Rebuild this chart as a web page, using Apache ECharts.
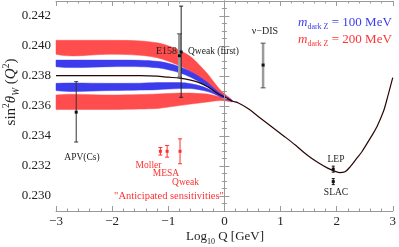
<!DOCTYPE html>
<html><head><meta charset="utf-8">
<script src="https://cdn.jsdelivr.net/npm/echarts@6/dist/echarts.min.js"></script>
<style>html,body{margin:0;padding:0;background:#fff}#c{width:399px;height:247px}</style>
</head><body><div id="c"></div>
<script>
// ---- data ----
const bandX      = [-3, -2, -1.5, -1.2, -1.0, -0.8, -0.6, -0.45, -0.3, -0.18, -0.07, 0.04, 0.14];
const redUpTop   = [0.24038,0.24038,0.24034,0.24021,0.24001,0.23971,0.23928,0.23875,0.23815,0.23756,0.23706,0.23670,0.23640];
const redUpBot   = [0.23945,0.23945,0.23938,0.23922,0.23899,0.23868,0.23829,0.23782,0.23736,0.23696,0.23666,0.23653,0.23633];
const blueUpTop  = [0.23906,0.23906,0.23905,0.23898,0.23885,0.23862,0.23829,0.23796,0.23756,0.23716,0.23683,0.23660,0.23636];
const blueUpBot  = [0.23862,0.23862,0.23862,0.23855,0.23842,0.23822,0.23792,0.23762,0.23729,0.23696,0.23670,0.23653,0.23633];
const blueLowTop = [0.23751,0.23751,0.23752,0.23756,0.23756,0.23756,0.23749,0.23736,0.23716,0.23693,0.23670,0.23650,0.23633];
const blueLowBot = [0.23703,0.23703,0.23706,0.23709,0.23713,0.23716,0.23716,0.23709,0.23696,0.23680,0.23660,0.23643,0.23630];
const redLowTop  = [0.23673,0.23673,0.23676,0.23680,0.23683,0.23686,0.23686,0.23683,0.23680,0.23670,0.23660,0.23646,0.23633];
const redLowBot  = [0.23577,0.23577,0.23580,0.23583,0.23593,0.23603,0.23613,0.23620,0.23627,0.23633,0.23636,0.23633,0.23627];

const smX = [-3, -2, -1.5, -1.2, -1.0, -0.8, -0.6, -0.45, -0.3, -0.18, -0.07, 0.04, 0.14, 0.25, 0.42, 0.65, 0.86, 1.08, 1.27, 1.48, 1.66, 1.84, 1.94, 2.05, 2.15, 2.24, 2.36, 2.45, 2.54, 2.63, 2.72, 2.84, 2.91, 3.0];
const smY = [0.23802,0.23802,0.23802,0.23799,0.23792,0.23786,0.23772,0.23756,0.23729,0.23699,0.23673,0.23653,0.23633,0.23620,0.23583,0.23517,0.23457,0.23394,0.23338,0.23272,0.23225,0.23186,0.23169,0.23156,0.23162,0.23194,0.23252,0.23295,0.23349,0.23404,0.23464,0.23570,0.23663,0.23789];

// measurements: [log10 Q, value, lower, upper]
const apv      = [[-2.64, 0.23559, 0.23360, 0.23762]];
const e158     = [[-0.80, 0.23935, 0.23792, 0.24081]];
const qweak1   = [[-0.77, 0.23960, 0.23658, 0.24266]];
const nuDIS    = [[0.69, 0.23873, 0.23721, 0.24019]];
const lep      = [[1.94, 0.23179, 0.23159, 0.23199]];
const slac     = [[1.94, 0.23096, 0.23076, 0.23116]];
const future   = [[-1.14, 0.23298, 0.23273, 0.23323], [-1.02, 0.23298, 0.23259, 0.23337], [-0.79, 0.23298, 0.23215, 0.23381]];

// ---- chart ----
const SERIF = "'Liberation Serif','DejaVu Serif',serif";
const RED = '#ff4d4d', BLUE = '#3c3cec';
const FRAME = '#9a9a9a';

function pairs(xs, ys) { return xs.map((x, i) => [x, ys[i]]); }

// a band: one polygon through the upper edge and back along the lower edge, via the axes' scales
function band(top, bot, color) {
  return {
    type: 'custom', silent: true, z: 2,
    data: bandX.map((x, i) => [x, top[i], bot[i]]),
    dimensions: ['x', 'top', 'bot'], encode: { x: 0, y: 1 },
    renderItem: function (params, api) {
      if (params.dataIndex !== 0) return { type: 'group', children: [] };
      const pts = [];
      for (let i = 0; i < bandX.length; i++) pts.push(api.coord([bandX[i], top[i]]));
      for (let i = bandX.length - 1; i >= 0; i--) pts.push(api.coord([bandX[i], bot[i]]));
      let x0 = Infinity, y0 = Infinity, x1 = -Infinity, y1 = -Infinity;
      pts.forEach(p => { x0 = Math.min(x0, p[0]); y0 = Math.min(y0, p[1]); x1 = Math.max(x1, p[0]); y1 = Math.max(y1, p[1]); });
      return { type: 'polygon', shape: { points: pts, smooth: 0.35, smoothConstraint: [[x0, y0], [x1, y1]] },
        style: { fill: color, stroke: color, lineWidth: 0.5 } };
    }
  };
}

function errSeries(data, color, width, cap, mcolor, capColor) {
  return {
    type: 'custom', data: data, dimensions: ['x', 'v', 'lo', 'hi'], encode: { x: 0, y: 1 },
    z: 10,
    renderItem: function (params, api) {
      const x = api.value(0);
      const p = api.coord([x, api.value(1)]);
      const a = api.coord([x, api.value(2)]);
      const b = api.coord([x, api.value(3)]);
      const cc = capColor || color;
      return { type: 'group', children: [
        { type: 'line', shape: { x1: a[0], y1: a[1], x2: b[0], y2: b[1] }, style: { stroke: color, lineWidth: width } },
        { type: 'line', shape: { x1: a[0] - cap, y1: a[1], x2: a[0] + cap, y2: a[1] }, style: { stroke: cc, lineWidth: 1 } },
        { type: 'line', shape: { x1: b[0] - cap, y1: b[1], x2: b[0] + cap, y2: b[1] }, style: { stroke: cc, lineWidth: 1 } },
        { type: 'rect', shape: { x: p[0] - 1.5, y: p[1] - 1.5, width: 3, height: 3 }, style: { fill: mcolor } }
      ] };
    }
  };
}

function axisBase(extra) {
  return Object.assign({
    z: 30,
    axisLine: { show: true, lineStyle: { color: FRAME, width: 1 } },
    axisTick: { show: true, inside: true, length: 5, lineStyle: { color: FRAME } },
    splitLine: { show: false }, minorSplitLine: { show: false }
  }, extra);
}

const chart = echarts.init(document.getElementById('c'), null, { renderer: 'canvas' });
chart.setOption({
  animation: false,
  backgroundColor: '#fff',
  grid: { left: 56, right: 3, top: 1, bottom: 36 },
  xAxis: [
    axisBase({ type: 'value', min: -3, max: 3, interval: 1, position: 'bottom',
      minorTick: { show: true, splitNumber: 5, length: 2.5, lineStyle: { color: FRAME } },
      axisLabel: { margin: 4, color: '#222', fontFamily: SERIF, fontSize: 13,
        formatter: v => (v < 0 ? '\u2212' + (-v) : String(v)) } }),
    axisBase({ type: 'value', min: -3, max: 3, interval: 1, position: 'top',
      minorTick: { show: true, splitNumber: 5, length: 2.5, lineStyle: { color: FRAME } },
      axisLabel: { show: false } })
  ],
  yAxis: [
    axisBase({ type: 'value', min: 0.229, max: 0.243, splitNumber: 7, position: 'left',
      minorTick: { show: true, splitNumber: 4, length: 2.5, lineStyle: { color: FRAME } },
      axisLabel: { margin: 5, color: '#222', fontFamily: SERIF, fontSize: 13, showMinLabel: false, showMaxLabel: false,
        formatter: v => v.toFixed(3) } }),
    axisBase({ type: 'value', min: 0.229, max: 0.243, splitNumber: 7, position: 'right',
      minorTick: { show: true, splitNumber: 4, length: 2.5, lineStyle: { color: FRAME } },
      axisLabel: { show: false } })
  ],
  series: [
    band(redUpTop, redUpBot, RED),
    band(redLowTop, redLowBot, RED),
    band(blueUpTop, blueUpBot, BLUE),
    band(blueLowTop, blueLowBot, BLUE),
    { type: 'line', data: pairs(smX, smY), smooth: 0.3, symbol: 'none', z: 5,
      lineStyle: { color: '#2a0505', width: 1.2 } },
    errSeries(apv, '#333', 1, 2, '#111'),
    errSeries(e158, '#9a9a9a', 3, 2.5, '#111', '#555'),
    errSeries(qweak1, '#222', 1, 2, '#111'),
    errSeries(nuDIS, '#9a9a9a', 2.5, 2.5, '#111', '#555'),
    errSeries(lep, '#111', 1, 1.5, '#111'),
    errSeries(slac, '#111', 1, 1.5, '#111'),
    errSeries(future, '#ff3030', 1, 2, '#ff3030')
  ],
  graphic: { elements: [
    { type: 'text', z: 100, x: 82, y: 157, style: { text: 'APV(Cs)', fill: '#222', fontFamily: SERIF, fontSize: 9.5, align: 'center', verticalAlign: 'middle' } },
    { type: 'text', z: 100, x: 177, y: 51, style: { text: 'E158', fill: '#222', fontFamily: SERIF, fontSize: 10, align: 'right', verticalAlign: 'middle' } },
    { type: 'text', z: 100, x: 188, y: 51, style: { text: 'Qweak (first)', fill: '#222', fontFamily: SERIF, fontSize: 9.5, align: 'left', verticalAlign: 'middle' } },
    { type: 'text', z: 100, x: 265, y: 31, style: { text: '\u03BD\u2212DIS', fill: '#222', fontFamily: SERIF, fontSize: 10, align: 'center', verticalAlign: 'middle' } },
    { type: 'text', z: 100, x: 336, y: 159, style: { text: 'LEP', fill: '#222', fontFamily: SERIF, fontSize: 9.5, align: 'center', verticalAlign: 'middle' } },
    { type: 'text', z: 100, x: 336, y: 192, style: { text: 'SLAC', fill: '#222', fontFamily: SERIF, fontSize: 9.5, align: 'center', verticalAlign: 'middle' } },
    { type: 'text', z: 100, x: 148.5, y: 165, style: { text: 'Moller', fill: '#ff3030', fontFamily: SERIF, fontSize: 9.5, align: 'center', verticalAlign: 'middle' } },
    { type: 'text', z: 100, x: 166, y: 173.5, style: { text: 'MESA', fill: '#ff3030', fontFamily: SERIF, fontSize: 9.5, align: 'center', verticalAlign: 'middle' } },
    { type: 'text', z: 100, x: 185.5, y: 182, style: { text: 'Qweak', fill: '#ff3030', fontFamily: SERIF, fontSize: 9.5, align: 'center', verticalAlign: 'middle' } },
    { type: 'text', z: 100, x: 169, y: 196, style: { text: '"Anticipated sensitivities"', fill: '#ff3030', fontFamily: SERIF, fontSize: 10.5, align: 'center', verticalAlign: 'middle' } },
    { type: 'text', z: 100, x: 298, y: 23, style: { text: '{m|m}{s|dark Z}{t| = 100 MeV}', fill: BLUE, fontFamily: SERIF, align: 'left', verticalAlign: 'middle',
        rich: { m: { fontFamily: SERIF, fontStyle: 'italic', fontSize: 13, fill: BLUE, lineHeight: 16, verticalAlign: 'middle' },
                s: { fontFamily: SERIF, fontSize: 8, fill: BLUE, verticalAlign: 'bottom', lineHeight: 16 },
                t: { fontFamily: SERIF, fontSize: 13, fill: BLUE, lineHeight: 16, verticalAlign: 'middle' } } } },
    { type: 'text', z: 100, x: 298, y: 40, style: { text: '{m|m}{s|dark Z}{t| = 200 MeV}', fill: '#ff3333', fontFamily: SERIF, align: 'left', verticalAlign: 'middle',
        rich: { m: { fontFamily: SERIF, fontStyle: 'italic', fontSize: 13, fill: '#ff3333', lineHeight: 16, verticalAlign: 'middle' },
                s: { fontFamily: SERIF, fontSize: 8, fill: '#ff3333', verticalAlign: 'bottom', lineHeight: 16 },
                t: { fontFamily: SERIF, fontSize: 13, fill: '#ff3333', lineHeight: 16, verticalAlign: 'middle' } } } },
    { type: 'text', z: 100, x: 225, y: 237, style: { text: '{a|Log}{s|10}{a| Q [GeV]}', fill: '#222', align: 'center', verticalAlign: 'middle',
        rich: { a: { fontFamily: SERIF, fontSize: 13, fill: '#222', lineHeight: 17, verticalAlign: 'middle' },
                s: { fontFamily: SERIF, fontSize: 8, fill: '#222', lineHeight: 17, verticalAlign: 'bottom' } } } },
    { type: 'text', z: 100, x: 11, y: 92, rotation: Math.PI / 2, style: { text: '{a|sin}{p|2}{i|\u03B8}{s|W}{a| (}{i|Q}{p|2}{a|)}', fill: '#222', align: 'center', verticalAlign: 'middle',
        rich: { a: { fontFamily: SERIF, fontSize: 15, fill: '#222', lineHeight: 20, verticalAlign: 'middle' },
                i: { fontFamily: SERIF, fontSize: 15, fontStyle: 'italic', fill: '#222', lineHeight: 20, verticalAlign: 'middle' },
                p: { fontFamily: SERIF, fontSize: 9.5, fill: '#222', lineHeight: 20, verticalAlign: 'top' },
                s: { fontFamily: SERIF, fontSize: 9.5, fontStyle: 'italic', fill: '#222', lineHeight: 20, verticalAlign: 'bottom' } } } }
  ] }
});
</script>
</body></html>
